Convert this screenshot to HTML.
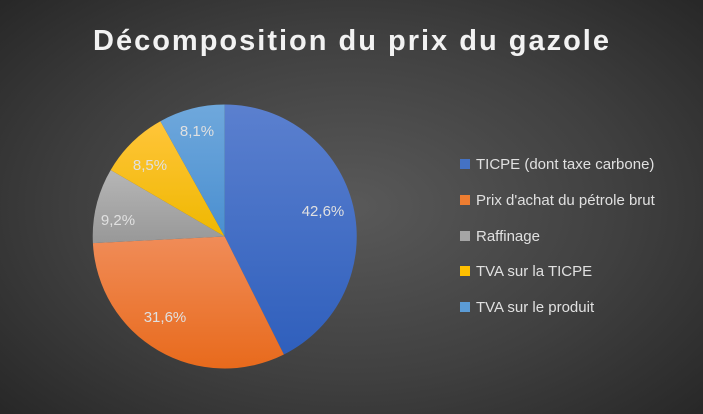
<!DOCTYPE html>
<html><head><meta charset="utf-8"><style>
html,body{margin:0;padding:0}
body{width:703px;height:414px;overflow:hidden;background:radial-gradient(ellipse 70% 75% at 50% 50%,#595959 0%,#404040 55%,#262626 100%);font-family:"Liberation Sans",sans-serif}
</style></head><body>
<svg width="703" height="414" xmlns="http://www.w3.org/2000/svg" style="position:absolute;left:0;top:0">
<defs>
<linearGradient id="gb" x1="0" y1="0" x2="0" y2="1"><stop offset="0" stop-color="#5b80cf"/><stop offset="1" stop-color="#2f5fbc"/></linearGradient>
<linearGradient id="go" x1="0" y1="0" x2="0" y2="1"><stop offset="0" stop-color="#f08c58"/><stop offset="1" stop-color="#e86a1c"/></linearGradient>
<linearGradient id="gg" x1="0" y1="0" x2="0" y2="1"><stop offset="0" stop-color="#b6b6b6"/><stop offset="1" stop-color="#989898"/></linearGradient>
<linearGradient id="gy" x1="0" y1="0" x2="0" y2="1"><stop offset="0" stop-color="#ffc53a"/><stop offset="1" stop-color="#efb800"/></linearGradient>
<linearGradient id="gl" x1="0" y1="0" x2="0" y2="1"><stop offset="0" stop-color="#6fa8dc"/><stop offset="1" stop-color="#4a8fd0"/></linearGradient>
</defs>
<text x="352" y="50" text-anchor="middle" font-family="Liberation Sans, sans-serif" font-weight="bold" font-size="29" letter-spacing="2" fill="#f2f2f2">Décomposition du prix du gazole</text>
<g transform="translate(224.7,236.5)">
<path d="M0,0 L0,-132 A132,132 0 0 1 59.2,118 Z" fill="url(#gb)"/>
<path d="M0,0 L59.2,118 A132,132 0 0 1 -131.8,6.6 Z" fill="url(#go)"/>
<path d="M0,0 L-131.8,6.6 A132,132 0 0 1 -114,-66.5 Z" fill="url(#gg)"/>
<path d="M0,0 L-114,-66.5 A132,132 0 0 1 -64.3,-115.3 Z" fill="url(#gy)"/>
<path d="M0,0 L-64.3,-115.3 A132,132 0 0 1 0,-132 Z" fill="url(#gl)"/>
</g>
<g font-family="Liberation Sans, sans-serif" font-size="15" fill="#e0e0e0" text-anchor="middle">
<text x="323" y="216">42,6%</text>
<text x="165" y="322">31,6%</text>
<text x="118" y="225">9,2%</text>
<text x="150" y="170">8,5%</text>
<text x="197" y="136">8,1%</text>
</g>
<g font-family="Liberation Sans, sans-serif" font-size="15" fill="#e0e0e0">
<rect x="460" y="159" width="10" height="10" fill="#4472c4"/><text x="476" y="169">TICPE (dont taxe carbone)</text>
<rect x="460" y="195" width="10" height="10" fill="#ed7d31"/><text x="476" y="205">Prix d'achat du pétrole brut</text>
<rect x="460" y="231" width="10" height="10" fill="#a5a5a5"/><text x="476" y="241">Raffinage</text>
<rect x="460" y="266" width="10" height="10" fill="#ffc000"/><text x="476" y="276">TVA sur la TICPE</text>
<rect x="460" y="302" width="10" height="10" fill="#5b9bd5"/><text x="476" y="312">TVA sur le produit</text>
</g>
</svg>
</body></html>
